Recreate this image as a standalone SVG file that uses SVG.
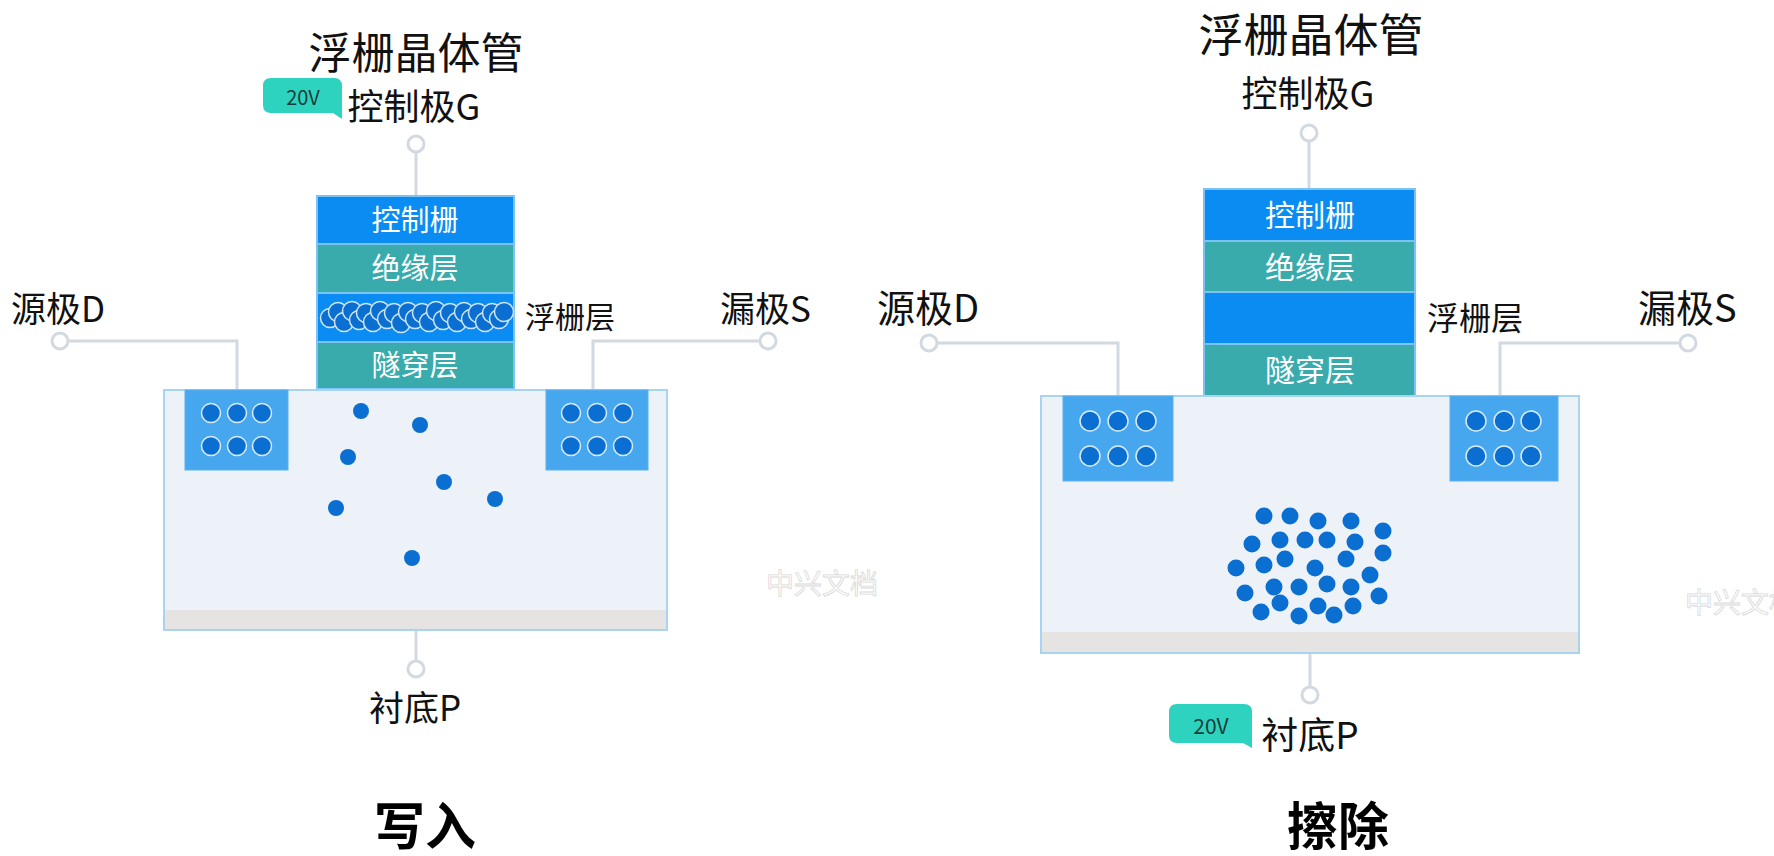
<svg xmlns="http://www.w3.org/2000/svg" width="1774" height="856" viewBox="0 0 1774 856">
  <defs>
    <style>
      text { font-family: "Noto Sans CJK SC", "Noto Sans", sans-serif; }
      .title { font-size: 44px; fill: #111; text-anchor: middle; }
      .term { font-size: 36px; fill: #111; }
      .mid { text-anchor: middle; }
      .side { font-size: 30px; fill: #111; }
      .layer-t { font-size: 29px; fill: #fff; text-anchor: middle; }
      .cg { fill: #0a8cf2; stroke: #7cc3f5; stroke-width: 2; }
      .ins { fill: #3aabad; stroke: #7cc3f5; stroke-width: 2; }
      .sub { fill: #edf2f8; stroke: #a8d3f2; stroke-width: 2; }
      .band { fill: #e5e4e2; }
      .well { fill: #46a7ef; stroke: #5ab0ef; stroke-width: 1; }
      .e { fill: #0b6fd2; stroke: #d8ecfb; stroke-width: 1.5; }
      .ec { fill: #0b6fd2; }
      .fg { fill: #0b6fd2; stroke: #cfe6fa; stroke-width: 1.5; }
      .wire { fill: none; stroke: #d2d9e1; stroke-width: 3; }
      .pin { fill: #fff; stroke: #d2d9e1; stroke-width: 3; }
      .bubble { fill: #2ed3bf; }
      .volt { font-size: 20px; fill: #173c3a; text-anchor: middle; }
      .caption { font-size: 51px; font-weight: 700; fill: #000; text-anchor: middle; }
      .mark { font-size: 28px; fill: #fff; stroke: #d9d9d9; stroke-width: 0.8; }
    </style>
  </defs>

  <rect width="1774" height="856" fill="#fff"/>

  <!-- ===== Programming (left) ===== -->
  <g id="write-connectors">
    <line class="wire" x1="416" y1="152" x2="416" y2="196"/>
    <polyline class="wire" points="68,341 237,341 237,390"/>
    <polyline class="wire" points="760,341 593,341 593,390"/>
    <line class="wire" x1="416" y1="631" x2="416" y2="661"/>
  </g>

  <g id="write-title">
    <text class="title" x="416" y="69" style="font-size:43px">浮栅晶体管</text>
  </g>

  <g id="write-gate-terminal">
    <path class="bubble" d="M271,78 H334 Q342,78 342,86 V119 L333,113 H271 Q263,113 263,105 V86 Q263,78 271,78 Z"/>
    <text class="volt" x="303" y="105">20V</text>
    <text class="term mid" x="414" y="120">控制极G</text>
    <circle class="pin" cx="416" cy="144" r="8"/>
  </g>

  <g id="write-gate-stack">
    <rect class="cg" x="317" y="196" width="197" height="48"/>
    <text class="layer-t" x="415" y="231">控制栅</text>
    <rect class="ins" x="317" y="244" width="197" height="49"/>
    <text class="layer-t" x="415" y="279">绝缘层</text>
    <rect class="cg" x="317" y="293" width="197" height="49"/>
    <rect class="ins" x="317" y="342" width="197" height="47"/>
    <text class="layer-t" x="415" y="376">隧穿层</text>
  </g>

  <!-- electrons packed into the floating gate -->
  <g id="write-floating-charge">
    <circle class="fg" cx="330" cy="318" r="9.5"/>
    <circle class="fg" cx="338" cy="312" r="9.5"/>
    <circle class="fg" cx="344" cy="322" r="9.5"/>
    <circle class="fg" cx="352" cy="311" r="9.5"/>
    <circle class="fg" cx="359" cy="320" r="9.5"/>
    <circle class="fg" cx="366" cy="313" r="9.5"/>
    <circle class="fg" cx="373" cy="322" r="9.5"/>
    <circle class="fg" cx="380" cy="311" r="9.5"/>
    <circle class="fg" cx="387" cy="319" r="9.5"/>
    <circle class="fg" cx="394" cy="313" r="9.5"/>
    <circle class="fg" cx="401" cy="323" r="9.5"/>
    <circle class="fg" cx="408" cy="312" r="9.5"/>
    <circle class="fg" cx="415" cy="319" r="9.5"/>
    <circle class="fg" cx="422" cy="313" r="9.5"/>
    <circle class="fg" cx="429" cy="322" r="9.5"/>
    <circle class="fg" cx="436" cy="311" r="9.5"/>
    <circle class="fg" cx="443" cy="320" r="9.5"/>
    <circle class="fg" cx="450" cy="313" r="9.5"/>
    <circle class="fg" cx="457" cy="322" r="9.5"/>
    <circle class="fg" cx="464" cy="312" r="9.5"/>
    <circle class="fg" cx="471" cy="319" r="9.5"/>
    <circle class="fg" cx="478" cy="313" r="9.5"/>
    <circle class="fg" cx="485" cy="322" r="9.5"/>
    <circle class="fg" cx="492" cy="313" r="9.5"/>
    <circle class="fg" cx="499" cy="319" r="9.5"/>
    <circle class="fg" cx="504" cy="312" r="9.5"/>
  </g>

  <g id="write-floating-label">
    <text class="side" x="525" y="328">浮栅层</text>
  </g>

  <g id="write-source">
    <text class="term" x="11" y="322" style="font-size:35px">源极D</text>
    <circle class="pin" cx="60" cy="341" r="8"/>
  </g>

  <g id="write-drain">
    <text class="term" x="720" y="322" style="font-size:35px">漏极S</text>
    <circle class="pin" cx="768" cy="341" r="8"/>
  </g>

  <g id="write-substrate">
    <rect class="sub" x="164" y="390" width="503" height="240"/>
    <rect class="band" x="165" y="610" width="501" height="19"/>
    <rect class="well" x="185" y="390" width="103" height="80"/>
    <rect class="well" x="546" y="390" width="102" height="80"/>
    <circle class="e" cx="211" cy="413" r="9.5"/>
    <circle class="e" cx="237" cy="413" r="9.5"/>
    <circle class="e" cx="262" cy="413" r="9.5"/>
    <circle class="e" cx="211" cy="446" r="9.5"/>
    <circle class="e" cx="237" cy="446" r="9.5"/>
    <circle class="e" cx="262" cy="446" r="9.5"/>
    <circle class="e" cx="571" cy="413" r="9.5"/>
    <circle class="e" cx="597" cy="413" r="9.5"/>
    <circle class="e" cx="623" cy="413" r="9.5"/>
    <circle class="e" cx="571" cy="446" r="9.5"/>
    <circle class="e" cx="597" cy="446" r="9.5"/>
    <circle class="e" cx="623" cy="446" r="9.5"/>
    <!-- free electrons in the channel -->
    <circle class="ec" cx="361" cy="411" r="8"/>
    <circle class="ec" cx="420" cy="425" r="8"/>
    <circle class="ec" cx="348" cy="457" r="8"/>
    <circle class="ec" cx="444" cy="482" r="8"/>
    <circle class="ec" cx="495" cy="499" r="8"/>
    <circle class="ec" cx="336" cy="508" r="8"/>
    <circle class="ec" cx="412" cy="558" r="8"/>
  </g>

  <g id="write-body">
    <circle class="pin" cx="416" cy="669" r="8"/>
    <text class="term mid" x="415" y="721" style="font-size:35px">衬底P</text>
  </g>

  <g id="write-caption">
    <text class="caption" x="425" y="845">写入</text>
  </g>

  <text class="mark" x="766" y="594">中兴文档</text>

  <!-- ===== Erase (right) ===== -->
  <g id="erase-connectors">
    <line class="wire" x1="1309" y1="141" x2="1309" y2="189"/>
    <polyline class="wire" points="937,343 1118,343 1118,396"/>
    <polyline class="wire" points="1680,343 1500,343 1500,396"/>
    <line class="wire" x1="1310" y1="654" x2="1310" y2="687"/>
  </g>

  <g id="erase-title">
    <text class="title" x="1311" y="52" style="font-size:45px">浮栅晶体管</text>
  </g>

  <g id="erase-gate-terminal">
    <text class="term mid" x="1308" y="107">控制极G</text>
    <circle class="pin" cx="1309" cy="133" r="8"/>
  </g>

  <g id="erase-gate-stack">
    <rect class="cg" x="1204" y="189" width="211" height="52"/>
    <text class="layer-t" x="1310" y="226" style="font-size:30px">控制栅</text>
    <rect class="ins" x="1204" y="241" width="211" height="51"/>
    <text class="layer-t" x="1310" y="278" style="font-size:30px">绝缘层</text>
    <rect class="cg" x="1204" y="292" width="211" height="52"/>
    <rect class="ins" x="1204" y="344" width="211" height="52"/>
    <text class="layer-t" x="1310" y="381" style="font-size:30px">隧穿层</text>
  </g>

  <g id="erase-floating-label">
    <text class="side" x="1427" y="330" style="font-size:32px">浮栅层</text>
  </g>

  <g id="erase-source">
    <text class="term" x="877" y="322" style="font-size:38px">源极D</text>
    <circle class="pin" cx="929" cy="343" r="8"/>
  </g>

  <g id="erase-drain">
    <text class="term" x="1638" y="322" style="font-size:38px">漏极S</text>
    <circle class="pin" cx="1688" cy="343" r="8"/>
  </g>

  <g id="erase-substrate">
    <rect class="sub" x="1041" y="396" width="538" height="257"/>
    <rect class="band" x="1042" y="632" width="536" height="20"/>
    <rect class="well" x="1063" y="396" width="110" height="85"/>
    <rect class="well" x="1450" y="396" width="108" height="85"/>
    <circle class="e" cx="1090" cy="421" r="10"/>
    <circle class="e" cx="1118" cy="421" r="10"/>
    <circle class="e" cx="1146" cy="421" r="10"/>
    <circle class="e" cx="1090" cy="456" r="10"/>
    <circle class="e" cx="1118" cy="456" r="10"/>
    <circle class="e" cx="1146" cy="456" r="10"/>
    <circle class="e" cx="1476" cy="421" r="10"/>
    <circle class="e" cx="1504" cy="421" r="10"/>
    <circle class="e" cx="1531" cy="421" r="10"/>
    <circle class="e" cx="1476" cy="456" r="10"/>
    <circle class="e" cx="1504" cy="456" r="10"/>
    <circle class="e" cx="1531" cy="456" r="10"/>
    <!-- electrons pulled back into the substrate -->
    <circle class="ec" cx="1264" cy="516" r="8.5"/>
    <circle class="ec" cx="1290" cy="516" r="8.5"/>
    <circle class="ec" cx="1318" cy="521" r="8.5"/>
    <circle class="ec" cx="1351" cy="521" r="8.5"/>
    <circle class="ec" cx="1383" cy="531" r="8.5"/>
    <circle class="ec" cx="1252" cy="544" r="8.5"/>
    <circle class="ec" cx="1280" cy="540" r="8.5"/>
    <circle class="ec" cx="1305" cy="540" r="8.5"/>
    <circle class="ec" cx="1327" cy="540" r="8.5"/>
    <circle class="ec" cx="1355" cy="542" r="8.5"/>
    <circle class="ec" cx="1383" cy="553" r="8.5"/>
    <circle class="ec" cx="1236" cy="568" r="8.5"/>
    <circle class="ec" cx="1264" cy="565" r="8.5"/>
    <circle class="ec" cx="1285" cy="559" r="8.5"/>
    <circle class="ec" cx="1315" cy="568" r="8.5"/>
    <circle class="ec" cx="1346" cy="559" r="8.5"/>
    <circle class="ec" cx="1370" cy="575" r="8.5"/>
    <circle class="ec" cx="1245" cy="593" r="8.5"/>
    <circle class="ec" cx="1274" cy="587" r="8.5"/>
    <circle class="ec" cx="1299" cy="587" r="8.5"/>
    <circle class="ec" cx="1327" cy="584" r="8.5"/>
    <circle class="ec" cx="1351" cy="587" r="8.5"/>
    <circle class="ec" cx="1379" cy="596" r="8.5"/>
    <circle class="ec" cx="1261" cy="612" r="8.5"/>
    <circle class="ec" cx="1280" cy="603" r="8.5"/>
    <circle class="ec" cx="1299" cy="616" r="8.5"/>
    <circle class="ec" cx="1318" cy="606" r="8.5"/>
    <circle class="ec" cx="1334" cy="615" r="8.5"/>
    <circle class="ec" cx="1353" cy="606" r="8.5"/>
  </g>

  <g id="erase-body">
    <circle class="pin" cx="1310" cy="695" r="8"/>
    <path class="bubble" d="M1177,704 H1244 Q1252,704 1252,712 V748 L1243,743 H1177 Q1169,743 1169,735 V712 Q1169,704 1177,704 Z"/>
    <text class="volt" x="1211" y="734" style="font-size:21px">20V</text>
    <text class="term mid" x="1310" y="749" style="font-size:37px">衬底P</text>
  </g>

  <g id="erase-caption">
    <text class="caption" x="1338" y="845">擦除</text>
  </g>

  <text class="mark" x="1685" y="613">中兴文档</text>
</svg>
